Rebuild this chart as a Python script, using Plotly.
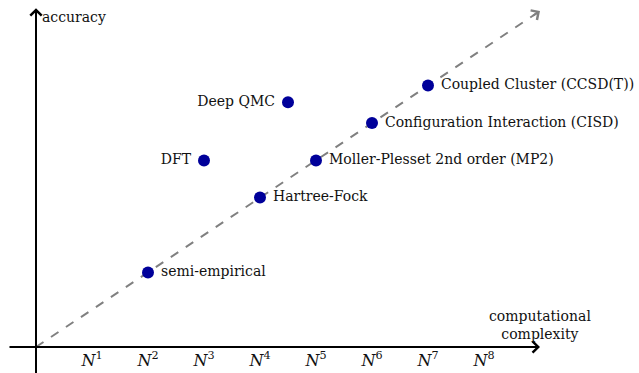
import plotly.graph_objects as go

# Methods: computational cost exponent vs. accuracy level
methods = ["semi-empirical", "Hartree-Fock", "Moller-Plesset 2nd order (MP2)",
           "Configuration Interaction (CISD)", "Coupled Cluster (CCSD(T))",
           "DFT", "Deep QMC"]
complexity = [2, 4, 5, 6, 7, 3, 4.5]
accuracy = [1.33, 2.67, 3.33, 4.0, 4.67, 3.33, 4.37]
label_side = ["middle right", "middle right", "middle right", "middle right",
              "middle right", "middle left", "middle left"]

tick_vals = [1, 2, 3, 4, 5, 6, 7, 8]
tick_text = [f"<i>N</i><sup>{k}</sup>" for k in tick_vals]

# Trend line end point
trend_x = [0, 9]
trend_y = [0, 6]

FONT = "DejaVu Serif"
fig = go.Figure()

# dashed trend line
fig.add_trace(go.Scatter(x=trend_x, y=trend_y, mode="lines",
                         line=dict(color="#808080", width=2, dash="dash"),
                         hoverinfo="skip", showlegend=False))

# method points
fig.add_trace(go.Scatter(x=complexity, y=accuracy, mode="markers+text",
                         text=[" " + m if s.endswith("right") else m + " "
                               for m, s in zip(methods, label_side)],
                         textposition=label_side,
                         textfont=dict(family=FONT, size=14, color="#111111"),
                         marker=dict(size=12, color="#00009a"),
                         showlegend=False))

annotations = [
    # x axis arrow
    dict(x=9.0, y=0, ax=-0.5, ay=0, xref="x", yref="y", axref="x", ayref="y",
         showarrow=True, arrowhead=4, arrowsize=1.1, arrowwidth=2,
         arrowcolor="black", standoff=0, text=""),
    # y axis arrow
    dict(x=0, y=6.05, ax=0, ay=-0.5, xref="x", yref="y", axref="x", ayref="y",
         showarrow=True, arrowhead=4, arrowsize=1.1, arrowwidth=2,
         arrowcolor="black", standoff=0, text=""),
    # trend arrow head
    dict(x=trend_x[1], y=trend_y[1], ax=8.85, ay=5.9, xref="x", yref="y",
         axref="x", ayref="y", showarrow=True, arrowhead=4, arrowsize=1.1,
         arrowwidth=2, arrowcolor="#808080", standoff=0, text=""),
    dict(x=0.07, y=5.9, xref="x", yref="y", text="accuracy", showarrow=False,
         xanchor="left", yanchor="middle",
         font=dict(family=FONT, size=14, color="#111111")),
    dict(x=9.0, y=0.4, xref="x", yref="y",
         text="computational<br>complexity", showarrow=False,
         xanchor="center", yanchor="middle", align="center",
         font=dict(family=FONT, size=14, color="#111111")),
]

fig.update_layout(
    width=639, height=373,
    margin=dict(l=0, r=0, t=0, b=0),
    paper_bgcolor="white", plot_bgcolor="white",
    font=dict(family=FONT),
    annotations=annotations,
    xaxis=dict(range=[-36 / 56, 603 / 56], showgrid=False, zeroline=False,
               showline=False, tickvals=tick_vals, ticktext=tick_text,
               ticks="", anchor="free", position=26 / 373,
               ticklabelstandoff=2,
               tickfont=dict(family=FONT, size=16, color="#111111")),
    yaxis=dict(range=[-26 / 56, 347 / 56], showgrid=False, zeroline=False,
               showline=False, showticklabels=False, ticks=""),
)

fig.write_html("out.html")
